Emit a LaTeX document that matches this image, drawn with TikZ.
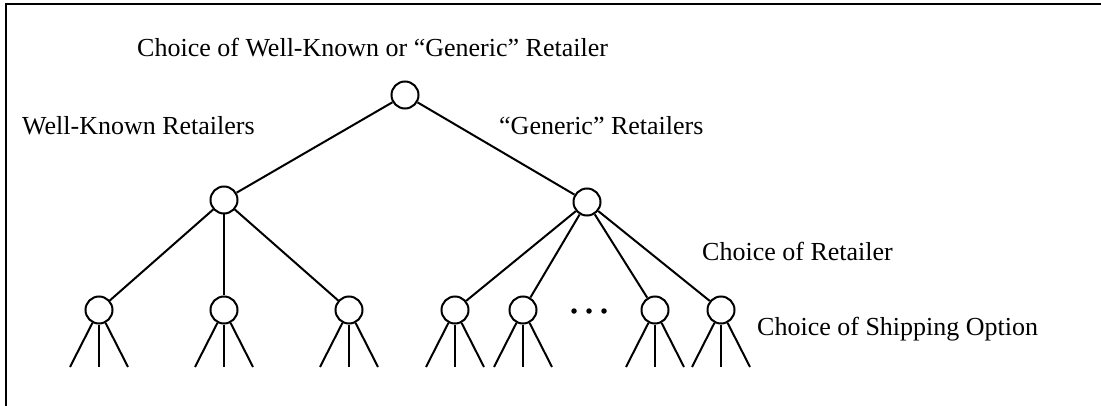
\documentclass[tikz,border=0pt]{standalone}
\usepackage{fontspec}
\setmainfont{Liberation Serif}
\begin{document}
\begin{tikzpicture}[x=1pt,y=-1pt,
  every node/.style={font=\fontsize{26}{30}\selectfont},
  choice/.style={circle,draw,line width=2pt,minimum size=27pt,inner sep=0pt},
  edge/.style={line width=2pt},
  lbl/.style={inner sep=0pt,anchor=base west},
  dotm/.style={circle,fill,inner sep=0pt,minimum size=5.5pt}]
\useasboundingbox (0,0) rectangle (1101,406);
% frame
\coordinate (fb) at (6,407);
\coordinate (ftl) at (6,4);
\coordinate (fr) at (1102,4);
\draw[line width=2pt] (fb) -- (ftl) -- (fr);
% labels
\node[lbl] (t0) at (137,57) {Choice of Well-Known or “Generic” Retailer};
\node[lbl] (t1) at (22,135) {Well-Known Retailers};
\node[lbl] (t2) at (499,135) {“Generic” Retailers};
\node[lbl] (t3) at (702,261) {Choice of Retailer};
\node[lbl] (t4) at (757,335) {Choice of Shipping Option};
% nodes
\node[choice] (root) at (405,95) {};
\node[choice] (wk) at (224,200) {};
\node[choice] (gn) at (587,202) {};
\foreach \n/\x in {a/99,b/224,c/349,d/455,e/523,f/655,g/721}{
  \node[choice] (\n) at (\x,310) {};
  \coordinate (\n l) at (\x-29,367);
  \coordinate (\n m) at (\x,367);
  \coordinate (\n r) at (\x+29,367);
  \draw[edge] (\n) -- (\n l);
  \draw[edge] (\n) -- (\n m);
  \draw[edge] (\n) -- (\n r);
}
\draw[edge] (root) -- (wk);
\draw[edge] (root) -- (gn);
\foreach \n in {a,b,c} \draw[edge] (wk) -- (\n);
\foreach \n in {d,e,f,g} \draw[edge] (gn) -- (\n);
% ellipsis
\node[dotm] (dot1) at (574,311) {};
\node[dotm] (dot2) at (589,311) {};
\node[dotm] (dot3) at (604,311) {};
\end{tikzpicture}
\end{document}
